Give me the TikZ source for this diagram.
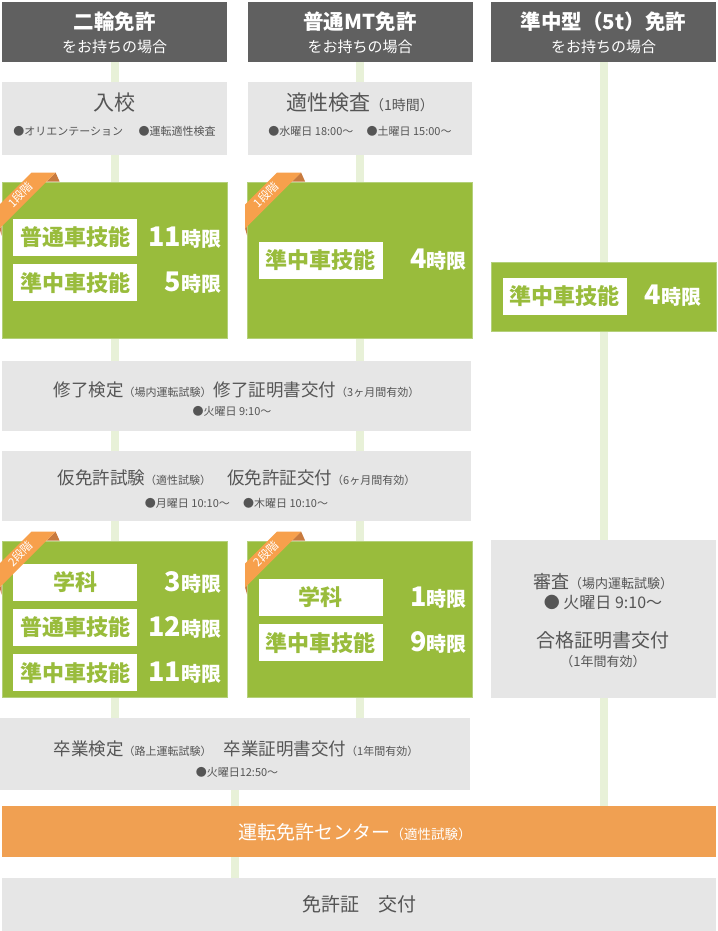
\documentclass[tikz,border=0pt]{standalone}
\usepackage{fontspec}
\setmainfont{Noto Sans CJK JP}
\usepackage{xcolor}
\usepackage{tikz}
\usetikzlibrary{positioning, backgrounds}

\definecolor{headgray}{HTML}{606060}
\definecolor{boxgray}{HTML}{E6E6E6}
\definecolor{txtgray}{HTML}{555555}
\definecolor{leaf}{HTML}{99BC3C}
\definecolor{leaflight}{HTML}{B4D07A}
\definecolor{flowgreen}{HTML}{E8F1D8}
\definecolor{centerorange}{HTML}{F0A052}
\definecolor{ribbon}{HTML}{F7A04C}
\definecolor{ribbondark}{HTML}{C87A3E}

\newcommand\fsz[1]{\fontsize{#1}{#1}\selectfont}
\newcommand\jigen[1]{{\fsz{27}#1}{\fsz{20}時限}}
\newcommand\stepribbon[2]{%
  \begin{scope}[shift={(#1.north west)}]
    \fill[ribbondark] (45,0) -- (54,-9) -- (58,0) -- cycle;
    \fill[ribbondark] (-2,47) -- (0,45) -- (0,54) -- cycle;
    \fill[ribbon] (-2,23) -- (30,-9) -- (54,-9) -- (-2,47) -- cycle;
    \node[rotate=45, text=white, font=\fsz{11.5}, inner sep=0pt] (#1r) at (19,13) {#2};
  \end{scope}}

\begin{document}
\begin{tikzpicture}[
    x=1pt, y=-1pt,
    head/.style={fill=headgray, minimum width=225pt, minimum height=60pt, inner sep=0pt},
    headtitle/.style={text=white, font=\fsz{20.5}\bfseries, inner sep=0pt},
    headsub/.style={text=white, font=\fsz{15}, inner sep=0pt},
    graybox/.style={fill=boxgray, inner sep=0pt},
    gtxt/.style={text=txtgray, inner sep=0pt},
    lesson/.style={fill=leaf, draw=leaflight, line width=0.8pt, minimum width=225pt, inner sep=0pt},
    skill/.style={fill=white, text=leaf, font=\fsz{22}\bfseries, minimum width=124pt, minimum height=37pt, inner sep=0pt},
    hrs/.style={text=white, font=\bfseries, anchor=east, inner sep=0pt},
    flow/.style={draw=flowgreen, line width=8pt}
]
\useasboundingbox (0,0) rectangle (717,931);

% --- 見出し ---
\node[head] (h1) at (114.5,32) {};
\node[headtitle] (h1t) at (114.5,22) {二輪免許};
\node[headsub] (h1s) at (114.5,47) {をお持ちの場合};
\node[head] (h2) at (360,32) {};
\node[headtitle] (h2t) at (360,22) {普通MT免許};
\node[headsub] (h2s) at (360,47) {をお持ちの場合};
\node[head] (h3) at (603.5,32) {};
\node[headtitle] (h3t) at (603.5,22) {準中型（5t）免許};
\node[headsub] (h3s) at (603.5,47) {をお持ちの場合};

% --- 入校・適性検査 ---
\node[graybox, minimum width=225pt, minimum height=73pt] (nyuko) at (114.5,118.5) {};
\node[gtxt, font=\fsz{21}] (nyukot) at (114.5,103) {入校};
\node[gtxt, font=\fsz{11}] (nyukob) at (114.5,131) {●オリエンテーション\hspace{1.4em}●運転適性検査};
\node[graybox, minimum width=224pt, minimum height=73pt] (tekisei) at (360,118.5) {};
\node[gtxt] (tekiseit) at (360,103) {{\fsz{21}適性検査}{\fsz{14}（1時間）}};
\node[gtxt, font=\fsz{11}] (tekiseib) at (360,131) {●水曜日 18:00～\hspace{1.2em}●土曜日 15:00～};

% --- 1段階 ---
\node[lesson, minimum height=156pt] (g1a) at (114.5,260) {};
\node[skill] (g1a1) at (75,237.5) {普通車技能};
\node[skill, below=8pt of g1a1] (g1a2) {準中車技能};
\node[hrs, xshift=-6pt] (g1a1h) at (g1a.east |- g1a1) {\jigen{11}};
\node[hrs, xshift=-6pt] (g1a2h) at (g1a.east |- g1a2) {\jigen{5}};
\stepribbon{g1a}{1段階}

\node[lesson, minimum height=156pt] (g1b) at (360,260) {};
\node[skill] (g1b1) at (320.5,260) {準中車技能};
\node[hrs, xshift=-6pt] (g1b1h) at (g1b.east |- g1b1) {\jigen{4}};
\stepribbon{g1b}{1段階}

\node[lesson, minimum height=69pt] (g1c) at (603.5,296.5) {};
\node[skill] (g1c1) at (564.5,296) {準中車技能};
\node[hrs, xshift=-15pt] (g1c1h) at (g1c.east |- g1c1) {\jigen{4}};

% --- 修了検定・仮免許 ---
\node[graybox, minimum width=469pt, minimum height=70pt] (shuryo) at (236.5,396) {};
\node[gtxt] (shuryot) at (236.5,390) {{\fsz{17.5}修了検定}{\fsz{11}（場内運転試験）}\hspace{2pt}{\fsz{17.5}修了証明書交付}{\fsz{11}（3ヶ月間有効）}};
\node[gtxt, font=\fsz{11}] (shuryob) at (232,411) {●火曜日 9:10～};

\node[graybox, minimum width=469pt, minimum height=70pt] (karimen) at (236.5,486) {};
\node[gtxt] (karimement) at (236.5,478) {{\fsz{17.5}仮免許試験}{\fsz{11}（適性試験）}\hspace{16pt}{\fsz{17.5}仮免許証交付}{\fsz{11}（6ヶ月間有効）}};
\node[gtxt, font=\fsz{11}] (karimenb) at (236.5,503) {●月曜日 10:10～\hspace{1.2em}●木曜日 10:10～};

% --- 2段階 ---
\node[lesson, minimum height=156pt] (g2a) at (114.5,619) {};
\node[skill] (g2a1) at (75,582) {学科};
\node[skill, below=8pt of g2a1] (g2a2) {普通車技能};
\node[skill, below=8pt of g2a2] (g2a3) {準中車技能};
\node[hrs, xshift=-6pt] (g2a1h) at (g2a.east |- g2a1) {\jigen{3}};
\node[hrs, xshift=-6pt] (g2a2h) at (g2a.east |- g2a2) {\jigen{12}};
\node[hrs, xshift=-6pt] (g2a3h) at (g2a.east |- g2a3) {\jigen{11}};
\stepribbon{g2a}{2段階}

\node[lesson, minimum height=156pt] (g2b) at (360,619) {};
\node[skill] (g2b1) at (320.5,597.5) {学科};
\node[skill, below=8pt of g2b1] (g2b2) {準中車技能};
\node[hrs, xshift=-6pt] (g2b1h) at (g2b.east |- g2b1) {\jigen{1}};
\node[hrs, xshift=-6pt] (g2b2h) at (g2b.east |- g2b2) {\jigen{9}};
\stepribbon{g2b}{2段階}

% 審査（準中型）
\node[graybox, minimum width=225pt, minimum height=158pt] (shinsa) at (603.5,619) {};
\node[gtxt] (shinsat) at (603,582) {{\fsz{18}審査}{\fsz{13}（場内運転試験）}};
\node[gtxt, font=\fsz{16}] (shinsab) at (603,603) {● 火曜日 9:10～};
\node[gtxt, font=\fsz{19}] (shinsac) at (603,640) {合格証明書交付};
\node[gtxt, font=\fsz{13}] (shinsad) at (603,662) {（1年間有効）};

% --- 卒業検定 ---
\node[graybox, minimum width=470pt, minimum height=72pt] (sotsu) at (235,754) {};
\node[gtxt] (sotsut) at (236,749) {{\fsz{17.5}卒業検定}{\fsz{11}（路上運転試験）}\hspace{12pt}{\fsz{17.5}卒業証明書交付}{\fsz{11}（1年間有効）}};
\node[gtxt, font=\fsz{11}] (sotsub) at (237,772) {●火曜日12:50～};

% --- 運転免許センター・交付 ---
\node[fill=centerorange, minimum width=714pt, minimum height=51pt, inner sep=0pt] (center) at (359,831.5) {};
\node[text=white, inner sep=0pt] (centert) at (355,832) {{\fsz{19}運転免許センター}{\fsz{13.5}（適性試験）}};
\node[graybox, minimum width=714pt, minimum height=53pt] (menkyo) at (359,904.5) {};
\node[gtxt, font=\fsz{19}] (menkyot) at (359,904) {免許証　交付};

% 流れの線
\begin{scope}[on background layer]
\fill[white] (0,0) rectangle (717,931);
\draw[flow] (h1.south) -- (h1.south |- sotsu.north);
\draw[flow] (h2.south) -- (h2.south |- sotsu.north);
\draw[flow] (h3.south) -- (h3.south |- center.north);
\draw[flow] (sotsu.south) -- (sotsu.south |- menkyo.north);
\end{scope}
\end{tikzpicture}
\end{document}
